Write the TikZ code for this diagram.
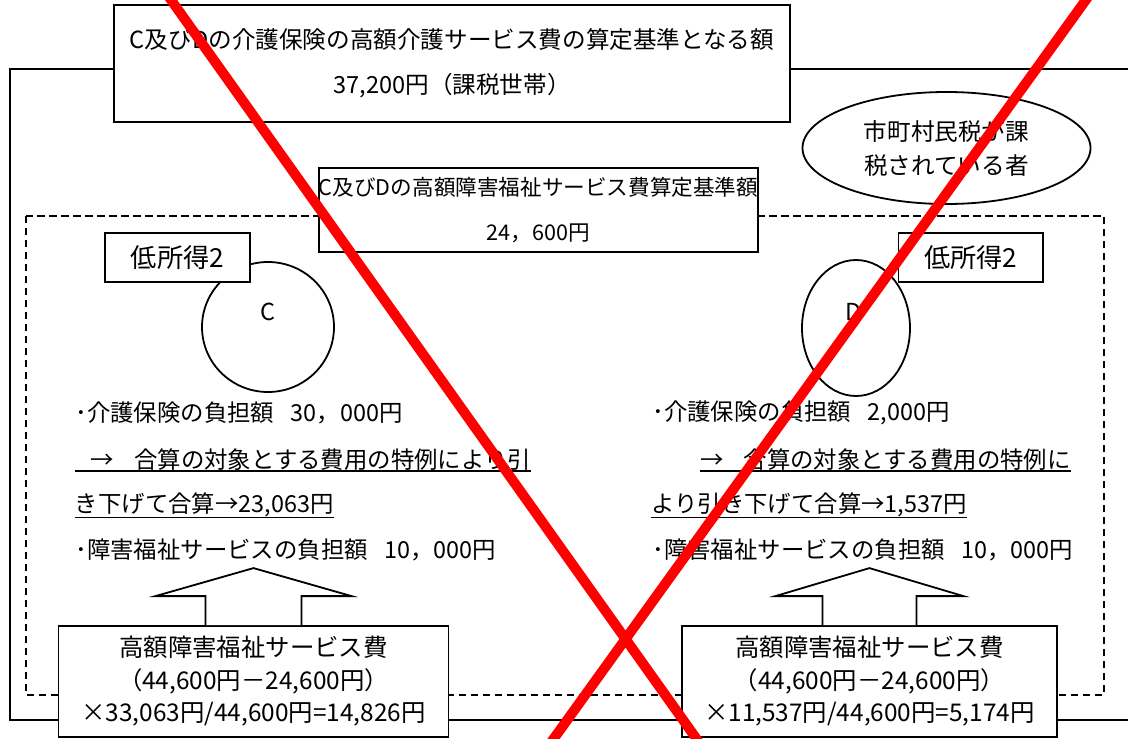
\documentclass[tikz,border=0pt]{standalone}
\usepackage{fontspec}
\setmainfont{Noto Sans CJK JP}
\usetikzlibrary{calc, shapes.geometric}

\tikzset{
  box/.style={draw, fill=white, line width=0.9pt, inner sep=0pt},
  oval/.style={ellipse, draw, line width=0.9pt, inner sep=0pt},
  item/.style={anchor=west, inner sep=0pt, font=\fontsize{11.7pt}{14pt}\selectfont},
  uline/.style={line width=0.9pt},
  blockarrow/.style={draw, fill=white, line width=0.9pt, line join=miter},
  cross/.style={draw=red, line width=5pt},
}

\begin{document}
\begin{tikzpicture}[x=0.5pt, y=-0.5pt]
			\clip (0,0) rectangle (1128,738);
			\fill[white] (0,0) rectangle (1128,738);
			
			\draw[line width=0.9pt] (1140,69) -- (9.7,69) -- (9.7,720) -- (1140,720);
			\draw[line width=0.8pt, dash pattern=on 3.6pt off 2.4pt] (26,215.7) rectangle (1104,695);
			
			\node(circC) [oval, minimum width=66pt, minimum height=65pt] at (268,327){};
			\node(circD) [oval, minimum width=54pt, minimum height=68pt] at (856,328){};
			\node(labC) [inner sep=0pt, font=\fontsize{11.7pt}{14pt}\selectfont] at (268,312){C};
			\node(labD) [inner sep=0pt, font=\fontsize{11.7pt}{14pt}\selectfont] at (854,312){D};
			
			\node(kaigo) [box, minimum width=338pt, minimum height=58.5pt, align=center, font=\fontsize{11.8pt}{22.5pt}\selectfont] at (452,63.5){C及びDの介護保険の高額介護サービス費の算定基準となる額\\37,200円（課税世帯）};
			\node(shogai) [box, minimum width=216.5pt, minimum height=42pt, align=center, font=\fontsize{10.8pt}{22.5pt}\selectfont] at (538.5,210){C及びDの高額障害福祉サービス費算定基準額\\24，600円};
			\node(kazei) [oval, fill=white, minimum width=144pt, minimum height=56pt, align=center, font=\fontsize{11.8pt}{17pt}\selectfont] at (946.5,148){市町村民税が課\\税されている者};
			
			\node(lowC) [box, minimum width=72.5pt, minimum height=24.5pt, font=\fontsize{13.1pt}{15pt}\selectfont] at (177.5,257.5){低所得2};
			\node(lowD) [box, minimum width=72.2pt, minimum height=24.5pt, font=\fontsize{13.1pt}{15pt}\selectfont] at (970.7,257.5){低所得2};
			
			% C side
			\node(c1) [item] at (75,413){･介護保険の負担額\hspace{0.7em}30，000円};
			\node(c2) [item] at (74.5,460){\hspace{8pt}→\hspace{10pt}合算の対象とする費用の特例により引};
			\node(c3) [item] at (74.5,505){き下げて合算→23,063円};
			\node(c4) [item] at (75,550){･障害福祉サービスの負担額\hspace{0.7em}10，000円};
			\draw[uline] (c2.south west) -- (c2.south east);
			\draw[uline] (c3.south west) -- (c3.south east);
			
			% D side
			\node(d1) [item] at (652,413){･介護保険の負担額\hspace{0.7em}2,000円};
			\node(d2) [item] at (700,460){→\hspace{10pt}合算の対象とする費用の特例に};
			\node(d3) [item] at (651,505){より引き下げて合算→1,537円};
			\node(d4) [item] at (652,550){･障害福祉サービスの負担額\hspace{0.7em}10，000円};
			\draw[uline] (d2.south west) -- (d2.south east);
			\draw[uline] (d3.south west) -- (d3.south east);
			
			\node(costC) [box, minimum width=195pt, minimum height=55.5pt, align=center, font=\fontsize{12.2pt}{16.25pt}\selectfont] at (253.5,681.5){高額障害福祉サービス費\\（44,600円－24,600円）\\×33,063円/44,600円=14,826円};
			\node(costD) [box, minimum width=187.4pt, minimum height=55.5pt, align=center, font=\fontsize{12.2pt}{16.25pt}\selectfont] at (869.4,681.5){高額障害福祉サービス費\\（44,600円－24,600円）\\×11,537円/44,600円=5,174円};
			
			\draw[blockarrow] ($(costC.north)+(-48,0)$) -- ($(costC.north)+(-48,-29)$) -- ($(costC.north)+(-98,-29)$) -- ($(costC.north)+(0,-57)$) -- ($(costC.north)+(98,-29)$) -- ($(costC.north)+(48,-29)$) -- ($(costC.north)+(48,0)$);
			\draw[blockarrow] ($(costD.north)+(-47,0)$) -- ($(costD.north)+(-47,-29)$) -- ($(costD.north)+(-94,-29)$) -- ($(costD.north)+(0,-57)$) -- ($(costD.north)+(94,-29)$) -- ($(costD.north)+(47,-29)$) -- ($(costD.north)+(47,0)$);
			
			\draw[cross] (164,-10) -- (703,748);
			\draw[cross] (1093,-10) -- (547,748);
			
		\end{tikzpicture}
\end{document}
